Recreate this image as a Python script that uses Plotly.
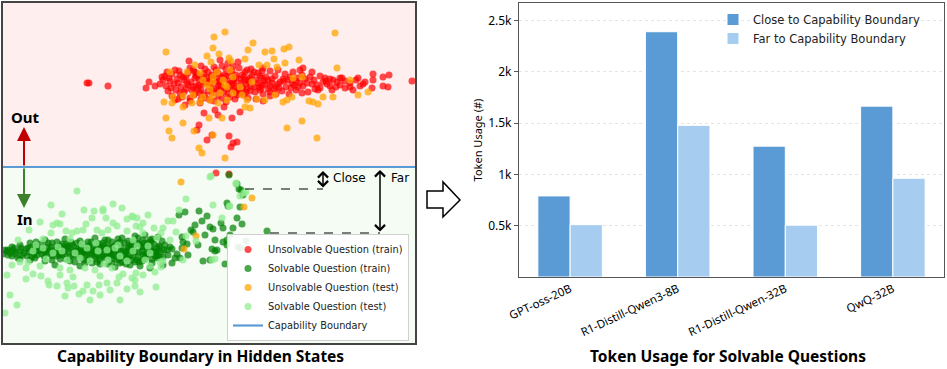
import plotly.graph_objects as go

W, H = 947, 369

# ---- left panel: projected hidden states (x, y in projection units, y grows downward) ----
BOUNDARY = 167
X_RANGE = [3, 415]
Y_RANGE = [343, 3]

unsolvable_train = [
    (87, 83), (89, 83), (108, 86), (146, 88), (149, 82), (155, 86), (162, 77), (160, 84),
    (175, 70), (190, 68), (205, 69), (222, 66), (232, 71), (245, 72), (258, 73), (270, 71), (285, 74), (300, 70), (312, 72),
    (165, 76), (172, 74), (180, 75), (188, 73), (196, 76), (204, 74), (212, 75), (218, 73), (226, 76), (236, 75),
    (244, 77), (252, 75), (262, 78), (275, 76), (290, 77), (302, 75), (320, 76), (330, 79), (342, 78),
    (163, 80), (170, 81), (177, 79), (184, 80), (191, 82), (199, 80), (206, 81), (213, 79), (220, 82), (227, 80),
    (234, 81), (241, 79), (249, 82), (256, 80), (264, 81), (272, 79), (280, 82), (288, 80), (296, 81), (305, 79),
    (314, 80), (323, 82), (333, 80), (345, 81), (356, 80), (365, 82), (373, 80),
    (166, 86), (174, 84), (181, 87), (188, 85), (196, 86), (203, 84), (210, 87), (218, 85), (225, 88), (232, 85),
    (239, 86), (246, 84), (254, 87), (262, 85), (270, 86), (278, 84), (286, 87), (294, 85), (303, 86), (312, 84),
    (320, 88), (330, 86), (340, 85), (350, 87), (363, 84), (372, 88), (383, 86), (388, 87),
    (168, 91), (176, 90), (184, 92), (192, 90), (200, 93), (208, 91), (216, 89), (224, 92), (232, 90), (240, 93),
    (250, 91), (260, 90), (270, 92), (282, 91), (296, 90), (308, 92), (332, 90), (353, 90),
    (172, 96), (182, 97), (194, 95), (206, 98), (218, 96), (230, 97), (244, 95), (256, 99), (270, 96),
    (195, 78), (202, 77), (209, 83), (215, 78), (222, 79), (229, 84), (236, 78), (243, 88), (250, 78), (258, 83),
    (266, 77), (274, 89), (198, 88), (186, 77), (178, 83), (230, 73), (254, 72), (212, 93), (238, 90),
    (167, 72), (179, 71), (193, 70), (201, 66), (214, 67), (226, 69), (239, 68), (251, 69), (263, 68), (278, 70),
    (293, 72), (169, 78), (183, 77), (197, 74), (207, 78), (221, 77), (233, 79), (248, 80), (260, 76), (268, 80),
    (283, 79), (297, 78), (310, 77), (325, 78), (337, 82), (350, 83), (171, 88), (186, 89), (199, 85), (211, 84),
    (221, 86), (235, 88), (247, 89), (259, 87), (268, 89), (276, 87), (291, 88), (300, 83), (317, 85), (327, 84),
    (345, 88), (360, 86), (180, 93), (195, 93), (204, 95), (213, 91), (228, 94), (236, 92), (246, 92), (263, 94),
    (276, 94), (289, 94), (302, 93), (318, 90), (178, 99), (190, 98), (201, 99), (214, 101), (222, 98), (235, 99),
    (248, 98), (263, 101), (208, 72), (216, 70), (195, 72), (233, 66), (242, 75), (262, 71),
    (187, 83), (193, 87), (201, 90), (205, 82), (211, 77), (217, 82), (219, 90), (224, 75), (228, 88), (233, 83),
    (237, 95), (241, 83), (245, 80), (251, 86), (255, 92), (261, 88), (265, 84), (272, 83), (279, 88), (284, 81),
    (292, 83), (298, 87), (307, 83), (315, 89), (326, 81), (336, 87),
    (373, 74), (389, 75), (383, 77), (358, 78), (412, 81), (340, 78),
    (189, 61), (220, 60), (238, 62), (247, 70), (303, 68), (228, 63),
    (204, 113), (215, 110), (224, 107), (240, 112), (218, 115), (232, 118), (199, 125), (197, 130), (207, 140),
    (212, 135), (229, 136), (233, 143), (237, 142), (231, 147), (185, 105), (200, 103), (210, 100), (226, 102),
    (175, 100), (190, 101),
    (216, 173), (229, 174),
]

solvable_train = [
    (20, 245), (35, 247), (48, 243), (60, 246), (72, 244), (85, 247), (97, 243), (108, 246), (118, 244), (128, 247),
    (137, 243), (146, 246), (154, 244), (160, 247),
    (8, 250), (16, 252), (26, 249), (38, 251), (50, 250), (58, 252), (66, 249), (76, 251), (86, 250), (94, 252),
    (102, 249), (110, 251), (118, 250), (126, 252), (134, 249), (142, 251), (150, 250), (158, 252),
    (3, 254), (12, 256), (22, 255), (32, 257), (42, 254), (52, 256), (62, 255), (70, 257), (80, 254), (90, 256),
    (98, 255), (106, 257), (114, 254), (122, 256), (130, 255), (138, 257), (146, 254), (155, 256),
    (30, 260), (45, 261), (60, 259), (75, 262), (88, 260), (100, 261), (112, 259), (122, 262), (132, 260),
    (142, 261), (152, 259),
    (45, 240), (65, 239), (80, 241), (95, 238), (108, 240), (118, 239), (128, 241), (138, 238), (150, 240),
    (55, 265), (80, 266), (100, 264), (115, 267), (130, 265),
    (5, 250), (10, 253), (14, 248), (18, 258), (24, 253), (28, 248), (34, 254), (40, 250), (44, 256), (47, 247),
    (54, 253), (57, 248), (63, 252), (68, 247), (73, 255), (78, 249), (82, 253), (88, 247), (92, 254), (96, 249),
    (100, 256), (104, 246), (109, 253), (112, 248), (116, 256), (120, 242), (124, 251), (127, 258), (131, 245),
    (135, 252), (139, 262), (141, 246), (145, 256), (148, 243), (152, 263), (156, 252), (160, 258), (164, 250),
    (168, 255), (172, 249), (175, 258), (62, 244), (88, 242), (105, 240), (122, 238), (135, 236), (145, 235),
    (158, 237), (112, 263), (126, 264), (92, 263), (70, 261), (140, 266), (150, 268), (163, 265),
    (30, 243), (36, 242), (41, 244), (52, 243), (57, 242), (66, 244), (71, 242), (77, 243), (83, 244), (91, 242),
    (99, 244), (103, 243), (112, 242), (117, 244), (125, 243), (132, 242), (139, 244), (144, 243), (151, 242),
    (12, 247), (21, 248), (31, 247), (37, 246), (43, 248), (51, 247), (61, 248), (67, 246), (74, 247), (81, 248),
    (89, 246), (93, 248), (101, 247), (107, 248), (114, 246), (121, 247), (129, 248), (133, 246), (143, 247),
    (151, 248), (159, 246),
    (7, 251), (13, 250), (20, 251), (29, 252), (35, 250), (45, 251), (49, 252), (55, 250), (61, 251), (69, 252),
    (72, 250), (79, 251), (84, 252), (91, 250), (97, 251), (104, 252), (107, 250), (113, 251), (121, 252),
    (129, 250), (133, 251), (139, 252), (147, 250), (154, 251), (161, 252),
    (8, 255), (15, 254), (27, 256), (37, 255), (47, 254), (57, 256), (59, 255), (65, 254), (76, 256), (85, 255),
    (87, 254), (95, 256), (103, 255), (109, 254), (111, 256), (119, 255), (125, 254), (133, 256), (143, 255),
    (149, 254), (157, 256),
    (20, 259), (35, 258), (52, 260), (66, 259), (80, 258), (84, 260), (96, 259), (104, 258), (117, 260),
    (119, 259), (127, 258), (137, 260), (145, 259), (157, 258),
    (85, 263), (97, 262), (108, 264), (120, 263), (135, 262),
    (143, 240), (152, 239), (157, 248), (162, 241), (163, 257), (165, 245), (167, 250), (170, 247), (172, 263),
    (177, 254), (180, 258), (182, 248), (182, 237), (183, 242), (188, 255), (191, 230), (193, 232),
    (198, 245), (199, 211), (202, 221), (203, 261), (207, 216), (210, 227), (210, 260), (212, 249), (213, 229),
    (215, 251), (217, 250), (221, 223), (223, 242), (223, 228), (225, 264), (227, 203), (227, 240), (227, 245),
    (228, 206), (233, 228), (237, 218), (237, 184), (238, 247), (239, 189), (240, 207), (240, 248), (241, 190),
    (242, 224), (243, 195), (246, 241), (267, 231), (229, 175), (179, 215), (185, 212), (195, 225), (205, 235),
    (215, 240), (230, 235), (187, 244),
]

unsolvable_test = [
    (225, 32), (335, 33), (214, 37), (213, 48), (253, 43), (289, 47), (284, 49), (248, 50), (265, 52), (272, 51),
    (166, 52), (219, 54), (207, 56), (229, 58), (245, 59), (274, 59), (231, 61), (211, 62), (195, 65), (299, 60),
    (285, 63), (337, 68), (259, 65), (267, 65), (277, 67), (170, 72), (187, 72), (200, 73), (213, 77), (223, 80),
    (233, 77), (227, 87), (207, 85), (240, 87), (252, 82), (293, 78), (302, 77), (350, 80), (368, 92), (358, 95),
    (333, 97), (323, 97), (313, 102), (318, 104), (309, 101), (292, 97), (283, 102), (287, 100), (265, 100),
    (257, 99), (247, 100), (275, 95), (242, 95), (233, 93), (220, 93), (213, 95), (203, 97), (193, 95), (183, 96),
    (173, 97), (164, 102), (172, 103), (183, 107), (192, 103), (200, 102), (210, 100), (218, 103), (227, 100),
    (250, 108), (245, 107), (209, 118), (222, 118), (166, 118), (183, 123), (169, 131), (172, 138), (194, 131),
    (199, 148), (202, 153), (213, 135), (225, 158), (287, 128), (302, 121), (317, 138), (213, 82), (217, 72),
    (230, 70), (203, 80), (225, 85), (210, 89),
    (181, 182), (252, 198), (244, 207), (196, 236), (184, 249),
]

solvable_test = [
    (77, 191), (51, 205), (29, 230), (10, 295), (17, 305), (5, 313), (26, 268), (26, 279), (33, 274), (41, 276),
    (48, 281), (49, 285), (57, 286), (60, 275), (67, 283), (73, 277), (68, 288), (74, 286), (79, 294), (83, 291),
    (87, 285), (93, 291), (99, 285), (100, 276), (107, 283), (110, 290), (117, 283), (119, 277), (127, 289),
    (123, 274), (132, 278), (135, 286), (53, 225), (57, 223), (60, 224), (51, 233), (66, 231), (72, 233), (70, 239),
    (77, 231), (83, 230), (86, 224), (92, 218), (94, 211), (103, 209), (103, 211), (106, 218), (97, 230), (102, 233),
    (108, 230), (113, 204), (113, 223), (117, 226), (127, 219), (127, 231), (132, 216), (137, 218), (136, 226),
    (43, 239), (36, 245),
    (33, 251), (43, 248), (53, 253), (62, 251), (67, 260), (75, 253), (80, 258), (87, 248), (90, 261), (98, 251),
    (107, 250), (108, 260), (115, 248), (120, 256), (127, 261), (133, 251),
    (60, 268), (70, 270), (85, 268), (95, 270), (112, 268), (20, 262), (40, 266), (145, 260), (150, 253),
    (155, 272), (120, 300), (90, 300), (100, 295), (140, 292), (65, 296),
    (28, 262), (46, 259), (58, 247), (82, 244), (96, 243), (104, 264), (118, 245), (137, 246), (148, 246),
    (160, 262), (170, 240), (176, 232), (186, 236), (154, 228), (148, 215), (122, 208), (84, 210), (62, 214),
    (40, 222), (18, 240), (12, 265), (7, 275),
    (211, 176), (186, 199), (179, 210), (173, 221), (163, 228), (161, 233), (157, 238), (143, 223), (133, 217),
    (140, 227), (143, 233), (133, 240), (150, 266), (143, 275), (135, 280), (156, 287), (161, 267), (136, 273),
    (213, 205), (230, 206), (236, 184), (240, 196), (244, 193), (212, 260), (215, 259), (196, 241), (183, 260),
    (163, 261), (168, 221), (210, 177), (236, 183), (246, 192), (222, 218), (229, 206),
]

# ---- right panel: token usage ----
models = ["GPT-oss-20B", "R1-Distill-Qwen3-8B", "R1-Distill-Qwen-32B", "QwQ-32B"]
close_tokens = [790, 2390, 1275, 1665]
far_tokens = [510, 1478, 505, 962]
token_ticks = [500, 1000, 1500, 2000, 2500]
token_tick_text = ["0.5k", "1k", "1.5k", "2k", "2.5k"]


def px(x):
    return x / W


def py(y):
    return 1 - y / H


fig = go.Figure()

point_series = [
    ("Unsolvable Question (train)", unsolvable_train, "rgba(255,0,0,0.7)"),
    ("Solvable Question (train)", solvable_train, "rgba(0,128,0,0.7)"),
    ("Unsolvable Question (test)", unsolvable_test, "rgba(255,165,0,0.75)"),
    ("Solvable Question (test)", solvable_test, "rgba(144,238,144,0.75)"),
]
for name, pts, color in point_series:
    fig.add_trace(go.Scatter(
        x=[p[0] for p in pts], y=[p[1] for p in pts],
        mode="markers", name=name,
        marker=dict(size=7, color=color, line=dict(width=0)),
        xaxis="x", yaxis="y", legend="legend",
    ))

fig.add_trace(go.Scatter(
    x=X_RANGE, y=[BOUNDARY, BOUNDARY], mode="lines", name="Capability Boundary",
    line=dict(color="#5b9bd5", width=2.2), xaxis="x", yaxis="y", legend="legend",
))

fig.add_trace(go.Bar(
    x=models, y=close_tokens, name="Close to Capability Boundary",
    marker=dict(color="#5b9bd5", line=dict(color="white", width=1)),
    xaxis="x2", yaxis="y2", legend="legend2",
))
fig.add_trace(go.Bar(
    x=models, y=far_tokens, name="Far to Capability Boundary",
    marker=dict(color="#a6cdef", line=dict(color="white", width=1)),
    xaxis="x2", yaxis="y2", legend="legend2",
))

# backgrounds either side of the boundary
fig.add_shape(type="rect", xref="x", yref="y", x0=X_RANGE[0], x1=X_RANGE[1], y0=Y_RANGE[1], y1=BOUNDARY,
              fillcolor="#ffeeee", line_width=0, layer="below")
fig.add_shape(type="rect", xref="x", yref="y", x0=X_RANGE[0], x1=X_RANGE[1], y0=BOUNDARY, y1=Y_RANGE[0],
              fillcolor="#f4fcf4", line_width=0, layer="below")

# close / far guide lines
fig.add_shape(type="line", xref="x", yref="y", x0=245, x1=323, y0=189, y1=189,
              line=dict(color="black", width=1, dash="dash"))
fig.add_shape(type="line", xref="x", yref="y", x0=270, x1=380, y0=233, y1=233,
              line=dict(color="black", width=1, dash="dash"))

# hollow arrow between panels
arrow_pts = [(427, 191), (443, 191), (443, 182), (460, 200), (443, 217), (443, 208), (427, 208)]
path = "M" + " L".join(f"{px(a):.5f},{py(b):.5f}" for a, b in arrow_pts) + " Z"
fig.add_shape(type="path", xref="paper", yref="paper", path=path,
              fillcolor="white", line=dict(color="black", width=1.5))

ann = [
    dict(x=24, y=127, ax=24, ay=BOUNDARY, text="", arrowcolor="#c00000"),
    dict(x=24, y=208, ax=24, ay=BOUNDARY, text="", arrowcolor="#3d7f2a"),
]
for a in ann:
    fig.add_annotation(xref="x", yref="y", axref="x", ayref="y", showarrow=True,
                       arrowhead=2, arrowsize=1.4, arrowwidth=2, **a)
for xa, y0, y1 in [(323, 171, 189), (380, 170, 233)]:
    fig.add_annotation(xref="x", yref="y", axref="x", ayref="y", x=xa, y=y0, ax=xa, ay=y1,
                       text="", showarrow=True, arrowside="end+start", arrowhead=4,
                       arrowsize=1.3, arrowwidth=1.5, arrowcolor="black")

fig.add_annotation(xref="x", yref="y", x=25, y=117, text="<b>Out</b>", showarrow=False,
                   font=dict(family="Noto Sans", size=15, color="black"))
fig.add_annotation(xref="x", yref="y", x=25, y=219, text="<b>In</b>", showarrow=False,
                   font=dict(family="Noto Sans", size=15, color="black"))
fig.add_annotation(xref="x", yref="y", x=331, y=178, text="Close", showarrow=False, xanchor="left",
                   font=dict(family="DejaVu Sans", size=12, color="black"))
fig.add_annotation(xref="x", yref="y", x=389, y=178, text="Far", showarrow=False, xanchor="left",
                   font=dict(family="DejaVu Sans", size=12, color="black"))

fig.add_annotation(xref="paper", yref="paper", x=px(200), y=py(356), xanchor="center", yanchor="middle",
                   text="<b>Capability Boundary in Hidden States</b>",
                   showarrow=False, font=dict(family="Noto Sans", size=15.5, color="black"))
fig.add_annotation(xref="paper", yref="paper", x=px(728), y=py(356), xanchor="center", yanchor="middle",
                   text="<b>Token Usage for Solvable Questions</b>",
                   showarrow=False, font=dict(family="Noto Sans", size=15.5, color="black"))

fig.update_layout(
    width=W, height=H, margin=dict(l=0, r=0, t=0, b=0, autoexpand=False),
    paper_bgcolor="white", plot_bgcolor="white",
    font=dict(family="Noto Sans", color="black"),
    barmode="group", bargap=0.4, bargroupgap=0,
    xaxis=dict(domain=[px(3), px(415)], range=X_RANGE, showgrid=False, zeroline=False, automargin=False,
               showticklabels=False, ticks="", showline=True, mirror=True, linecolor="#444", linewidth=1.5),
    yaxis=dict(domain=[py(343), py(3)], range=Y_RANGE, showgrid=False, zeroline=False, automargin=False,
               showticklabels=False, ticks="", showline=True, mirror=True, linecolor="#444", linewidth=1.5),
    xaxis2=dict(domain=[px(519), px(944)], range=[-0.475, 3.475], anchor="y2", showgrid=False,
                showline=True, mirror=True, linecolor="#555", linewidth=1.2, ticks="", automargin=False,
                tickangle=-25, tickfont=dict(size=11.5)),
    yaxis2=dict(domain=[py(277), py(3)], range=[0, 2670], anchor="x2", showline=True, mirror=True,
                linecolor="#555", linewidth=1.2, ticks="outside", ticklen=4, tickcolor="#555",
                tickvals=token_ticks, ticktext=token_tick_text, tickfont=dict(size=12),
                gridcolor="#e4e4e4", griddash="dot", zeroline=False, automargin=False,
                title=dict(text="Token Usage (#)", font=dict(size=11), standoff=3)),
    legend=dict(x=px(409), xanchor="right", y=py(341), yanchor="bottom",
                bgcolor="rgba(255,255,255,0.9)", bordercolor="#d0d0d0", borderwidth=1,
                font=dict(family="DejaVu Sans", size=9.8, color="#222"), tracegroupgap=0),
    legend2=dict(x=px(926), xanchor="right", y=py(5), yanchor="top", bgcolor="rgba(0,0,0,0)",
                 font=dict(family="DejaVu Sans", size=11.5, color="#222")),
)

# the page body keeps its default 8px margin otherwise
fig.write_html("out.html", config={"displayModeBar": False},
               post_script="document.body.style.margin = '0';")
